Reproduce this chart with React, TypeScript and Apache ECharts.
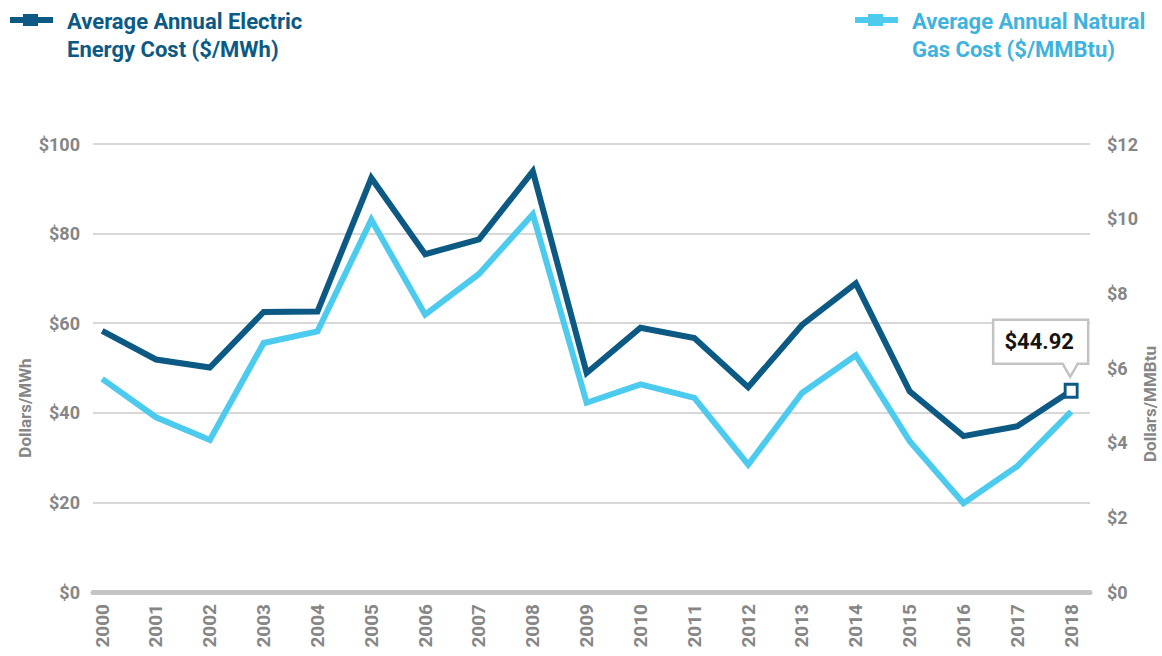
import React, { useEffect, useRef } from "react";
import * as echarts from "echarts";

const years = [
  "2000", "2001", "2002", "2003", "2004", "2005", "2006", "2007", "2008", "2009",
  "2010", "2011", "2012", "2013", "2014", "2015", "2016", "2017", "2018",
];
const electricCost = [
  58.3, 51.9, 50.1, 62.5, 62.6, 92.4, 75.4, 78.7, 93.9, 48.9,
  59.0, 56.7, 45.7, 59.6, 68.9, 44.8, 34.8, 37.0, 44.92,
];
const gasCost = [
  5.71, 4.68, 4.07, 6.67, 6.98, 9.97, 7.43, 8.52, 10.12, 5.07,
  5.56, 5.2, 3.41, 5.33, 6.34, 4.04, 2.38, 3.37, 4.83,
];
const leftTicks = [0, 20, 40, 60, 80, 100];
const rightTicks = [0, 2, 4, 6, 8, 10, 12];
const electricName = "Average Annual Electric\nEnergy Cost ($/MWh)";
const gasName = "Average Annual Natural\nGas Cost ($/MMBtu)";
const calloutText = "$44.92";

const DARK = "#0c5a84";
const LIGHT = "#4ccbef";
const LIGHT_TEXT = "#3fb3dd";
const GRAY = "#868686";
const FONT = "Roboto, 'Liberation Sans', sans-serif";

export default function App() {
  const ref = useRef<HTMLDivElement>(null);

  useEffect(() => {
    if (!ref.current) return;
    const chart = echarts.init(ref.current, null, { renderer: "svg" });
    const lastIdx = years.length - 1;
    const option: any = {
      animation: false,
      backgroundColor: "#ffffff",
      grid: { left: 93, right: 72, top: 144, bottom: 64, containLabel: false },
      xAxis: {
        type: "value",
        min: -0.17,
        max: 18.35,
        splitLine: { show: false },
        axisTick: { show: false },
        axisLine: { show: true, onZero: true, lineStyle: { color: "#c4c4c4", width: 5 } },
        axisLabel: {
          customValues: years.map((_, i) => i),
          formatter: (v: number) => years[Math.round(v)] ?? "",
          rotate: 90,
          margin: 12,
          color: GRAY,
          fontFamily: FONT,
          fontWeight: "bold",
          fontSize: 19,
        },
      },
      yAxis: [
        {
          type: "value",
          min: leftTicks[0],
          max: leftTicks[leftTicks.length - 1],
          interval: 20,
          axisLine: { show: false },
          axisTick: { show: false },
          splitLine: { lineStyle: { color: "#d8d8d8", width: 2 } },
          axisLabel: {
            formatter: (v: number) => "$" + v,
            margin: 13,
            color: GRAY,
            fontFamily: FONT,
            fontWeight: "bold",
            fontSize: 18,
          },
        },
        {
          type: "value",
          min: rightTicks[0],
          max: rightTicks[rightTicks.length - 1],
          interval: 2,
          position: "right",
          axisLine: { show: false },
          axisTick: { show: false },
          splitLine: { show: false },
          axisLabel: {
            formatter: (v: number) => "$" + v,
            margin: 17,
            color: GRAY,
            fontFamily: FONT,
            fontWeight: "bold",
            fontSize: 18,
          },
        },
      ],
      series: [
        {
          name: "Gas",
          type: "line",
          yAxisIndex: 1,
          symbol: "none",
          lineStyle: { color: LIGHT, width: 6, join: "miter" },
          data: gasCost.map((v, i) => [i, v]),
          z: 2,
        },
        {
          name: "Electric",
          type: "line",
          yAxisIndex: 0,
          symbol: "none",
          lineStyle: { color: DARK, width: 6, join: "miter" },
          data: electricCost.map((v, i) => [i, v]),
          z: 3,
          markPoint: {
            symbol: "rect",
            symbolSize: [12, 13],
            itemStyle: { color: "#ffffff", borderColor: DARK, borderWidth: 3 },
            label: { show: false },
            data: [{ coord: [lastIdx, electricCost[lastIdx]] }],
          },
        },
      ],
    };
    chart.setOption(option);

    const p = chart.convertToPixel({ xAxisIndex: 0, yAxisIndex: 0 }, [lastIdx, electricCost[lastIdx]]) as number[];
    const px = p[0];
    const py = p[1];

    const legendItem = (x: number, color: string, textColor: string, text: string) => [
      { type: "rect", shape: { x, y: 17, width: 43, height: 6 }, style: { fill: color } },
      { type: "rect", shape: { x: x + 13, y: 14, width: 15, height: 12 }, style: { fill: color } },
      {
        type: "text",
        x: x + 57,
        y: 7,
        style: {
          text,
          fill: textColor,
          font: `bold 22px ${FONT}`,
          lineHeight: 28,
          verticalAlign: "top",
        },
      },
    ];

    chart.setOption({
      graphic: [
        ...legendItem(10, DARK, DARK, electricName),
        ...legendItem(855, LIGHT, LIGHT_TEXT, gasName),
        {
          type: "text",
          x: 25,
          y: 408,
          rotation: Math.PI / 2,
          style: {
            text: "Dollars/MWh",
            fill: GRAY,
            font: `bold 17px ${FONT}`,
            align: "center",
            verticalAlign: "middle",
          },
        },
        {
          type: "text",
          x: 1150,
          y: 404,
          rotation: Math.PI / 2,
          style: {
            text: "Dollars/MMBtu",
            fill: GRAY,
            font: `bold 17px ${FONT}`,
            align: "center",
            verticalAlign: "middle",
          },
        },
        {
          type: "rect",
          shape: { x: px - 78, y: py - 71, width: 95, height: 44 },
          style: { fill: "#ffffff", stroke: "#c3c3c3", lineWidth: 2.5 },
          z: 10,
        },
        {
          type: "polygon",
          shape: { points: [[px - 8, py - 28.5], [px + 6, py - 28.5], [px - 1, py - 15]] },
          style: { fill: "#ffffff" },
          z: 11,
        },
        {
          type: "polyline",
          shape: { points: [[px - 8.5, py - 27], [px - 1, py - 14], [px + 6.5, py - 27]] },
          style: { stroke: "#c3c3c3", lineWidth: 2.5, fill: null },
          z: 11,
        },
        {
          type: "text",
          x: px - 32,
          y: py - 49,
          style: {
            text: calloutText,
            fill: "#141414",
            font: `bold 22px ${FONT}`,
            align: "center",
            verticalAlign: "middle",
          },
          z: 12,
        },
      ],
    });

    return () => chart.dispose();
  }, []);

  return (
    <div
      ref={ref}
      style={{ position: "fixed", left: 0, top: 0, width: 1162, height: 656, background: "#fff" }}
    />
  );
}
